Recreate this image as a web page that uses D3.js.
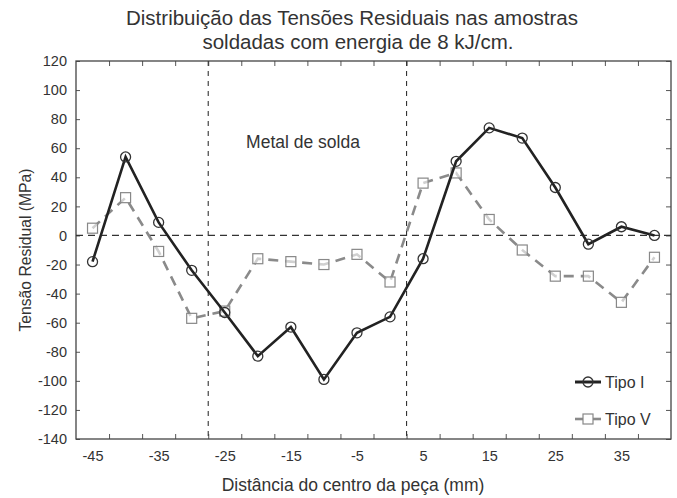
<!DOCTYPE html>
<html lang="pt">
<head>
<meta charset="UTF-8" />
<title>Distribuição das Tensões Residuais</title>
<script src="https://cdn.jsdelivr.net/npm/d3@7"></script>
<style>
  body { margin: 0; background: #fff; }
  svg text { font-family: "Liberation Sans", Arial, sans-serif; fill: #333; }
</style>
</head>
<body>
<div id="app"></div>
<script>
// dados
const distancias = [-45, -40, -35, -30, -25, -20, -15, -10, -5, 0, 5, 10, 15, 20, 25, 30, 35, 40];
const tipoI = [-18, 54, 9, -24, -53, -83, -63, -99, -67, -56, -16, 51, 74, 67, 33, -6, 6, 0];
const tipoV = [5, 26, -11, -57, -52, -16, -18, -20, -13, -32, 36, 43, 11, -10, -28, -28, -46, -15];
const xLabels = [-45, -35, -25, -15, -5, 5, 15, 25, 35];
const xTicks = [-42.5, -37.5, -32.5, -27.5, -22.5, -17.5, -12.5, -7.5, -2.5, 2.5, 7.5, 12.5, 17.5, 22.5, 27.5, 32.5, 37.5];
const yTicks = [-140, -120, -100, -80, -60, -40, -20, 0, 20, 40, 60, 80, 100, 120];
const limitesSolda = [-27.5, 2.5];

const w = 677, h = 498;
const pLeft = 76, pRight = 671, pTop = 61, pBottom = 439;

const svg = d3.select("#app").append("svg")
  .attr("width", w).attr("height", h);

const x = d3.scaleLinear().domain([-47.5, 42.5]).range([pLeft, pRight]);
const y = d3.scaleLinear().domain([-140, 120]).range([pBottom, pTop]);
const fmt = d => String(d);

// titulo
svg.append("text").attr("x", 352).attr("y", 25)
  .attr("text-anchor", "middle").style("font-size", "20.5px")
  .text("Distribuição das Tensões Residuais nas amostras");
svg.append("text").attr("x", 358).attr("y", 48.5)
  .attr("text-anchor", "middle").style("font-size", "20.5px")
  .text("soldadas com energia de 8 kJ/cm.");

// eixos
const gx = svg.append("g").attr("transform", `translate(0,${pBottom})`)
  .call(d3.axisBottom(x).tickValues(xTicks).tickSizeInner(-5).tickSizeOuter(0).tickFormat(""));
const gxl = svg.append("g").attr("transform", `translate(0,${pBottom})`)
  .call(d3.axisBottom(x).tickValues(xLabels).tickSize(0).tickFormat(fmt));
const gt = svg.append("g").attr("transform", `translate(0,${pTop})`)
  .call(d3.axisTop(x).tickValues(xTicks).tickSizeInner(-5).tickSizeOuter(0).tickFormat(""));
const gy = svg.append("g").attr("transform", `translate(${pLeft},0)`)
  .call(d3.axisLeft(y).tickValues(yTicks).tickSizeInner(-4).tickSizeOuter(0).tickPadding(9).tickFormat(fmt));
const gr = svg.append("g").attr("transform", `translate(${pRight},0)`)
  .call(d3.axisRight(y).tickValues(yTicks).tickSizeInner(-5).tickSizeOuter(0).tickFormat(""));

[gx, gxl, gt, gy, gr].forEach(g => {
  g.select(".domain").remove();
  g.selectAll("line").attr("stroke", "#555");
  g.selectAll("text").style("font-size", "14.5px").attr("fill", "#333");
});
gxl.selectAll("text").attr("dy", "0.35em").attr("y", 17);
gy.selectAll("text").attr("x", -9);

// moldura
svg.append("rect").attr("x", pLeft).attr("y", pTop)
  .attr("width", pRight - pLeft).attr("height", pBottom - pTop)
  .attr("fill", "none").attr("stroke", "#444").attr("stroke-width", 1.3);

// linhas de referencia
svg.append("line").attr("x1", pLeft).attr("x2", pRight)
  .attr("y1", y(0)).attr("y2", y(0))
  .attr("stroke", "#333").attr("stroke-width", 1.2).attr("stroke-dasharray", "7,5");
svg.selectAll(".vref").data(limitesSolda).enter().append("line")
  .attr("x1", d => x(d)).attr("x2", d => x(d))
  .attr("y1", pTop).attr("y2", pBottom)
  .attr("stroke", "#333").attr("stroke-width", 1.1).attr("stroke-dasharray", "5,5");

svg.append("text").attr("x", 303).attr("y", 148)
  .attr("text-anchor", "middle").style("font-size", "17.5px")
  .text("Metal de solda");

// series
const linha = d3.line().x((d, i) => x(distancias[i])).y(d => y(d));

svg.append("path").datum(tipoV).attr("d", linha)
  .attr("fill", "none").attr("stroke", "#8a8a8a")
  .attr("stroke-width", 2.6).attr("stroke-dasharray", "10,7");
svg.selectAll(".sq").data(tipoV).enter().append("rect")
  .attr("x", (d, i) => x(distancias[i]) - 5).attr("y", d => y(d) - 5)
  .attr("width", 10).attr("height", 10)
  .attr("fill", "#fff").attr("fill-opacity", 0.6)
  .attr("stroke", "#888").attr("stroke-width", 1.2);

svg.append("path").datum(tipoI).attr("d", linha)
  .attr("fill", "none").attr("stroke", "#222").attr("stroke-width", 2.6);
svg.selectAll(".ci").data(tipoI).enter().append("circle")
  .attr("cx", (d, i) => x(distancias[i])).attr("cy", d => y(d))
  .attr("r", 5).attr("fill", "none")
  .attr("stroke", "#333").attr("stroke-width", 1.3);

// legenda
const leg = svg.append("g");
leg.append("line").attr("x1", 575).attr("x2", 601).attr("y1", 382).attr("y2", 382)
  .attr("stroke", "#222").attr("stroke-width", 3);
leg.append("circle").attr("cx", 588).attr("cy", 382).attr("r", 5)
  .attr("fill", "none").attr("stroke", "#333").attr("stroke-width", 1.3);
leg.append("text").attr("x", 605).attr("y", 382).attr("dy", "0.35em")
  .style("font-size", "16px").text("Tipo I");
leg.append("line").attr("x1", 575).attr("x2", 601).attr("y1", 419).attr("y2", 419)
  .attr("stroke", "#8a8a8a").attr("stroke-width", 2.6);
leg.append("rect").attr("x", 583).attr("y", 414).attr("width", 10).attr("height", 10)
  .attr("fill", "#fff").attr("stroke", "#888").attr("stroke-width", 1.2);
leg.append("text").attr("x", 605).attr("y", 419).attr("dy", "0.35em")
  .style("font-size", "16px").text("Tipo V");

// titulos dos eixos
svg.append("text").attr("x", 353).attr("y", 491)
  .attr("text-anchor", "middle").style("font-size", "17.5px")
  .text("Distância do centro da peça (mm)");
svg.append("text").attr("transform", `translate(31,250) rotate(-90)`)
  .attr("text-anchor", "middle").style("font-size", "15.7px")
  .text("Tensão Residual (MPa)");
</script>
</body>
</html>
